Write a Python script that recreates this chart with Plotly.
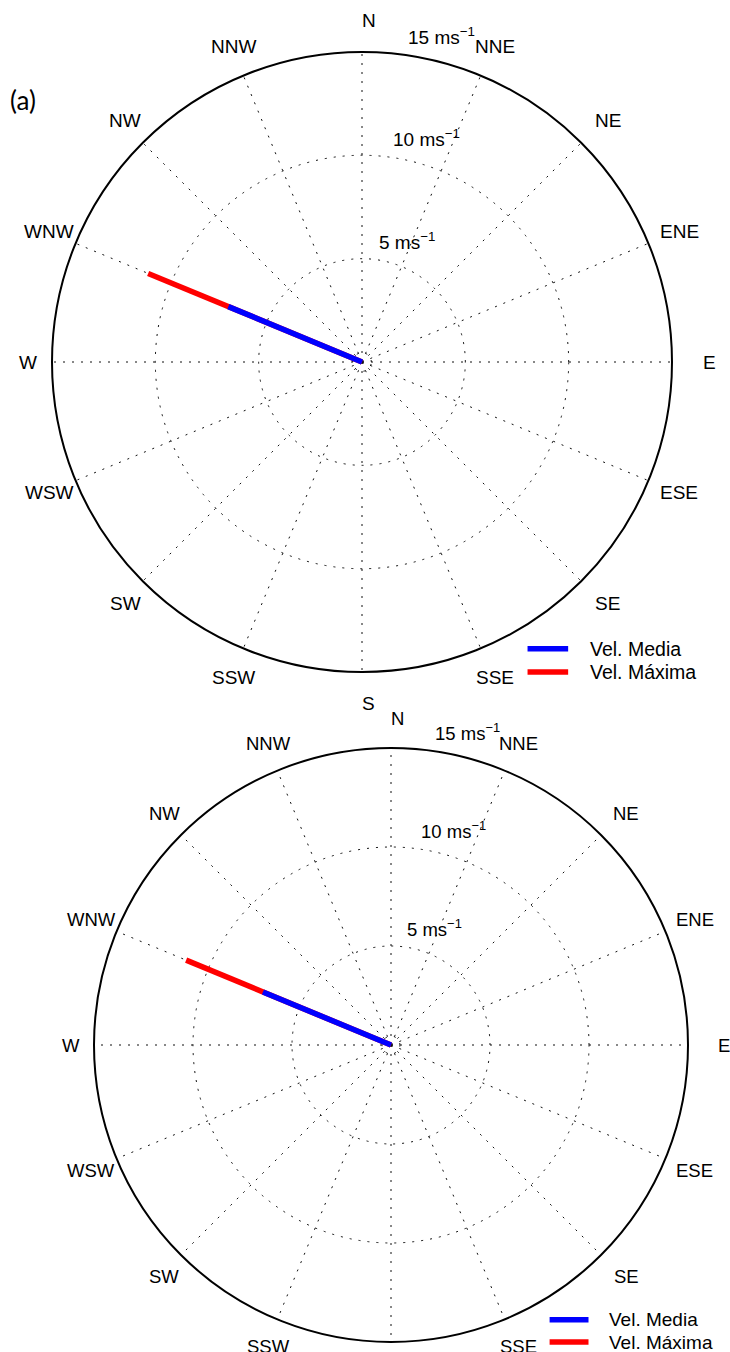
import math
import plotly.graph_objects as go

# Page size (px)
W, H = 730, 1352

# Compass sectors (clockwise from north)
directions = ["N", "NNE", "NE", "ENE", "E", "ESE", "SE", "SSE",
              "S", "SSW", "SW", "WSW", "W", "WNW", "NW", "NNW"]
dir_angles = [i * 22.5 for i in range(16)]

# Speed rings (m/s) and their labels
ring_speeds = [5, 10, 15]
ring_labels = ["5 ms<sup>−1</sup>", "10 ms<sup>−1</sup>", "15 ms<sup>−1</sup>"]
r_max = 15
inner_ring = 0.45

# Wind data for the two panels
panel_dirs = ["WNW", "WNW"]
vel_media = [7.0, 7.0]
vel_maxima = [11.2, 11.2]

series_names = ["Vel. Media", "Vel. Máxima"]
series_colors = ["#0000ff", "#ff0000"]

# Panel placement on the page: centre and radius in px
panels = [
    dict(cx=362, cy=362, R=310, fs=19, legfs=19.5, tag="(a)"),
    dict(cx=391, cy=1045, R=297, fs=18.5, legfs=19, tag=None),
]

FONT = "Liberation Sans, Arial, Helvetica, sans-serif"
DOTS = "2px,7px"


def px_to_paper(x, y):
    return x / W, 1 - y / H


fig = go.Figure()
annotations = []
shapes = []

for k, p in enumerate(panels):
    cx, cy, R = p["cx"], p["cy"], p["R"]
    sub = "polar" if k == 0 else f"polar{k + 1}"
    theta = dir_angles[directions.index(panel_dirs[k])]

    # maximum first, mean drawn over it
    fig.add_trace(go.Scatterpolar(
        r=[0, vel_maxima[k]], theta=[theta, theta], mode="lines",
        line=dict(color=series_colors[1], width=5.5),
        name=series_names[1], subplot=sub, showlegend=False,
        hoverinfo="skip"))
    fig.add_trace(go.Scatterpolar(
        r=[0, vel_media[k]], theta=[theta, theta], mode="lines",
        line=dict(color=series_colors[0], width=5.5),
        name=series_names[0], subplot=sub, showlegend=False,
        hoverinfo="skip"))

    x0, y1 = px_to_paper(cx - R, cy - R)
    x1, y0 = px_to_paper(cx + R, cy + R)
    fig.update_layout(**{sub: dict(
        domain=dict(x=[x0, x1], y=[y0, y1]),
        bgcolor="white",
        radialaxis=dict(
            range=[0, r_max], tickvals=[inner_ring] + ring_speeds[:-1],
            showticklabels=False, ticks="", showline=False,
            showgrid=True, gridcolor="#111", gridwidth=1.4,
            griddash=DOTS),
        angularaxis=dict(
            direction="clockwise", rotation=90,
            tickmode="array", tickvals=dir_angles,
            showticklabels=False, ticks="",
            showline=True, linecolor="black", linewidth=2,
            showgrid=True, gridcolor="#111", gridwidth=1.4,
            griddash=DOTS),
    )})

    # compass labels just outside the rim
    rl = 1.1 * R
    for name, ang in zip(directions, dir_angles):
        a = math.radians(ang)
        lx = cx + rl * math.sin(a) + (9 - 2.3 * len(name))
        ly = cy - rl * math.cos(a)
        ax_, ay_ = px_to_paper(lx, ly)
        annotations.append(dict(
            x=ax_, y=ay_, xref="paper", yref="paper", text=name,
            showarrow=False, xanchor="center", yanchor="middle",
            font=dict(family=FONT, size=p["fs"], color="black")))

    # speed ring labels along the 82 degree line
    s = R / r_max
    a82 = math.radians(82)
    for spd, lab in zip(ring_speeds, ring_labels):
        rr = (spd + 0.25) * s
        lx = cx + rr * math.cos(a82)
        ly = cy - rr * math.sin(a82)
        ax_, ay_ = px_to_paper(lx, ly)
        annotations.append(dict(
            x=ax_, y=ay_, xref="paper", yref="paper", text=lab,
            showarrow=False, xanchor="left", yanchor="bottom",
            font=dict(family=FONT, size=p["fs"], color="black")))

    # legend block in the lower right of each rose
    for j, (nm, col) in enumerate(zip(series_names, series_colors)):
        yy = cy + (0.925 + 0.075 * j) * R
        lx0, ly = px_to_paper(cx + 0.534 * R, yy)
        lx1, _ = px_to_paper(cx + 0.665 * R, yy)
        shapes.append(dict(type="line", xref="paper", yref="paper",
                           x0=lx0, x1=lx1, y0=ly, y1=ly,
                           line=dict(color=col, width=5.5)))
        tx, ty = px_to_paper(cx + 0.728 * R, yy)
        annotations.append(dict(
            x=tx, y=ty, xref="paper", yref="paper", text=nm,
            showarrow=False, xanchor="left", yanchor="middle",
            font=dict(family=FONT, size=p["legfs"], color="black")))

    if p["tag"]:
        tx, ty = px_to_paper(23, 100)
        annotations.append(dict(
            x=tx, y=ty, xref="paper", yref="paper", text=p["tag"],
            showarrow=False, xanchor="center", yanchor="middle",
            font=dict(family="Lato, Open Sans, sans-serif", size=26,
                      color="black")))

fig.update_layout(
    width=W, height=H, autosize=False,
    margin=dict(l=0, r=0, t=0, b=0),
    paper_bgcolor="white", plot_bgcolor="white",
    showlegend=False,
    annotations=annotations, shapes=shapes,
)

fig.write_html("out.html", config=dict(displayModeBar=False))
